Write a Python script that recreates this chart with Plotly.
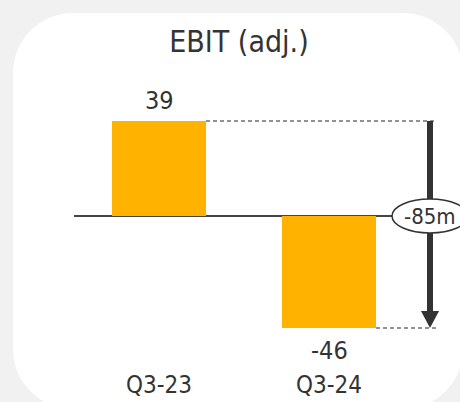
import plotly.graph_objects as go

# ---- data ----
categories = ["Q3-23", "Q3-24"]
values = [39, -46]
title_text = "EBIT (adj.)"
unit = "m"

# ---- layout constants (pixels) ----
W, H = 460, 402
FONT = "Liberation Sans Narrow, DejaVu Sans Condensed, Roboto, sans-serif"
TXT = "#333333"
BAR = "#FFB300"
BG = "#F1F1F1"

cat_px0, cat_step = 159, 170          # pixel of first category, px per category
zero_px, k = 216, 2.436               # pixel of y=0, px per unit
plot_left, plot_right = 74, 460
plot_top, plot_bottom = 70, 368

xr = [(plot_left - cat_px0) / cat_step, (plot_right - cat_px0) / cat_step]
yr = [-(plot_bottom - zero_px) / k, (zero_px - plot_top) / k]

bar_w = 94 / cat_step
arrow_x = (430 - cat_px0) / cat_step
dash_end = (437 - cat_px0) / cat_step
head_len = 17 / k
head_hw = 9 / cat_step
ell_rx = 38 / cat_step
ell_ry = 17 / k

xs = list(range(len(categories)))
diff = values[1] - values[0]

fig = go.Figure(go.Bar(x=xs, y=values, width=bar_w, marker=dict(color=BAR, line=dict(width=0)),
                       hoverinfo="skip"))

def px(x):
    return x / W

def py(y):
    return 1 - y / H

# rounded white panel
L, T, R, B, r = 13, 13, 463, 409, 60
c = r * 0.4477
panel = (f"M {px(L+r)},{py(T)} L {px(R-r)},{py(T)} "
         f"C {px(R-c)},{py(T)} {px(R)},{py(T+c)} {px(R)},{py(T+r)} "
         f"L {px(R)},{py(B-r)} "
         f"C {px(R)},{py(B-c)} {px(R-c)},{py(B)} {px(R-r)},{py(B)} "
         f"L {px(L+r)},{py(B)} "
         f"C {px(L+c)},{py(B)} {px(L)},{py(B-c)} {px(L)},{py(B-r)} "
         f"L {px(L)},{py(T+r)} "
         f"C {px(L)},{py(T+c)} {px(L+c)},{py(T)} {px(L+r)},{py(T)} Z")

shapes = [
    dict(type="path", xref="paper", yref="paper", path=panel, fillcolor="white",
         line=dict(width=0), layer="below"),
    dict(type="line", xref="x", yref="y", x0=xs[0] + bar_w / 2, x1=dash_end,
         y0=values[0], y1=values[0], line=dict(color="#707070", width=1.5, dash="4px,3px")),
    dict(type="line", xref="x", yref="y", x0=xs[1] + bar_w / 2, x1=dash_end,
         y0=values[1], y1=values[1], line=dict(color="#707070", width=1.5, dash="4px,3px")),
    dict(type="line", xref="x", yref="y", x0=arrow_x, x1=arrow_x,
         y0=values[0], y1=values[1] + head_len * 0.9, line=dict(color="#333333", width=6)),
    dict(type="path", xref="x", yref="y",
         path=(f"M {arrow_x - head_hw},{values[1] + head_len} L {arrow_x + head_hw},{values[1] + head_len} "
               f"L {arrow_x},{values[1]} Z"),
         fillcolor="#333333", line=dict(width=0)),
    dict(type="circle", xref="x", yref="y", x0=arrow_x - ell_rx, x1=arrow_x + ell_rx,
         y0=-ell_ry, y1=ell_ry, fillcolor="white", line=dict(color="#333333", width=1.5)),
]

annotations = []
for x, v in zip(xs, values):
    annotations.append(dict(x=x, y=v, xref="x", yref="y", text=str(v), showarrow=False,
                            yanchor="bottom" if v >= 0 else "top",
                            yshift=4 if v >= 0 else -6,
                            font=dict(family=FONT, size=25, color=TXT)))
annotations.append(dict(x=arrow_x, y=0, xref="x", yref="y", text=f"{diff}{unit}", showarrow=False,
                        xanchor="center", yanchor="middle",
                        font=dict(family=FONT, size=22, color=TXT)))

fig.update_layout(
    width=W, height=H,
    margin=dict(l=0, r=0, t=0, b=0),
    paper_bgcolor=BG, plot_bgcolor="rgba(0,0,0,0)",
    showlegend=False,
    title=dict(text=title_text, x=239 / W, xanchor="center", y=py(41), yanchor="middle",
               font=dict(family=FONT, size=30, color=TXT)),
    xaxis=dict(domain=[plot_left / W, plot_right / W], range=xr, tickvals=xs, ticktext=categories,
               showgrid=False, zeroline=False, showline=False, ticks="",
               tickfont=dict(family=FONT, size=24, color=TXT), automargin=False, fixedrange=True),
    yaxis=dict(domain=[1 - plot_bottom / H, 1 - plot_top / H], range=yr, showgrid=False,
               showticklabels=False, ticks="", showline=False,
               zeroline=True, zerolinecolor="#444444", zerolinewidth=2, automargin=False,
               fixedrange=True),
    shapes=shapes,
    annotations=annotations,
)

fig.write_html("out.html")
